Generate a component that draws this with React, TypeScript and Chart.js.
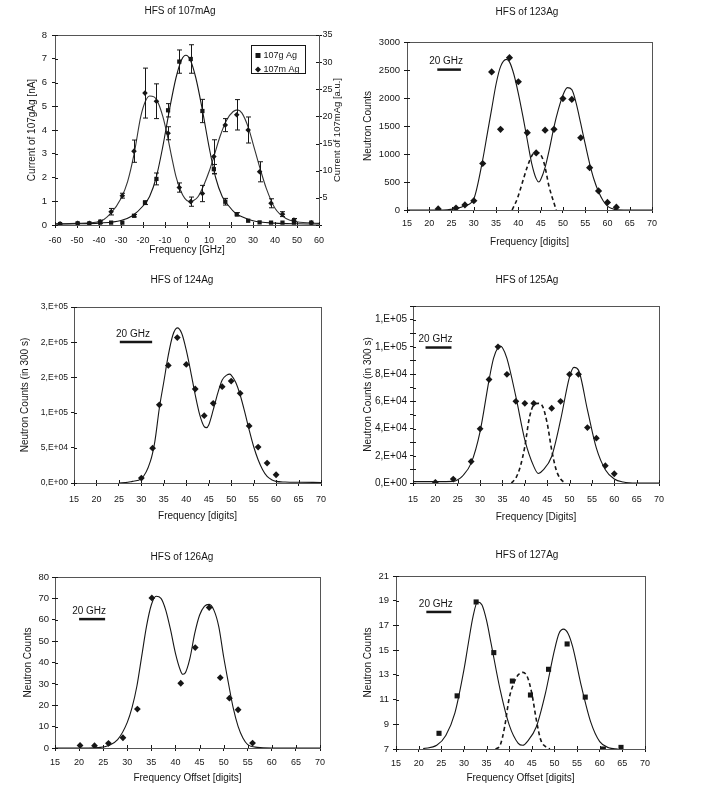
import React, { useEffect, useRef } from 'react';
import { Chart, registerables } from 'chart.js';
Chart.register(...registerables);

// ---------------- DATA ----------------
// Panel 1: HFS of 107mAg
const P1_FREQ = [-57.7, -49.7, -44.4, -39.5, -34.5, -29.4, -24.1, -19.1, -13.9, -8.6, -3.5, 1.7, 7, 12.2, 17.4, 22.6, 27.8, 33, 38.2, 43.4, 48.6, 56.5];
const P1_G_CURRENT = [0.04, 0.07, 0.07, 0.1, 0.1, 0.1, 0.39, 0.94, 1.94, 4.83, 6.88, 6.99, 4.8, 2.35, 0.98, 0.45, 0.18, 0.11, 0.1, 0.1, 0.1, 0.1];
const P1_G_ERR = [0, 0, 0, 0, 0, 0, 0.05, 0.08, 0.25, 0.28, 0.49, 0.6, 0.49, 0.2, 0.14, 0.07, 0, 0, 0, 0, 0, 0];
const P1_M_CURRENT = [0.2, 0.3, 0.3, 0.6, 2.45, 5.4, 13.6, 24.3, 22.8, 16.9, 6.9, 4.3, 5.8, 12.6, 18.4, 20.3, 17.5, 9.8, 4.0, 2.0, 0.9, 0.4];
const P1_M_ERR = [0, 0, 0, 0.3, 0.6, 0.45, 2.05, 4.6, 3.2, 1.2, 0.85, 0.85, 1.5, 3.1, 1.2, 2.8, 2.4, 1.85, 0.83, 0.45, 0.3, 0];
const P1_G_FIT_X = [-60, -50, -40, -30, -25, -20, -17, -14, -11, -8, -5, -2.5, -0.5, 1.5, 4, 7, 10, 13, 16, 19, 22, 25, 30, 40, 50, 60];
const P1_G_FIT_Y = [0.04, 0.05, 0.08, 0.19, 0.38, 0.8, 1.2, 2.0, 3.3, 4.84, 6.2, 6.95, 7.15, 6.95, 6.2, 4.84, 3.3, 2.0, 1.2, 0.8, 0.5, 0.35, 0.18, 0.08, 0.05, 0.04];
const P1_M_FIT_X = [-60, -50, -40, -35, -30, -27, -24, -21, -19, -17, -15, -13, -11, -9, -7, -5, -3, -1, 1, 3, 5, 8, 10, 12, 15, 18, 21, 23, 25, 28, 30, 33, 36, 40, 45, 50, 60];
const P1_M_FIT_Y = [0.2, 0.3, 0.6, 2.0, 4.9, 8.0, 13.2, 20.0, 22.7, 23.75, 23.6, 22.4, 20.0, 16.6, 12.6, 8.9, 6.45, 4.9, 4.3, 4.5, 5.2, 7.7, 9.8, 12.3, 16.3, 19.3, 20.9, 21.2, 20.6, 17.8, 15.0, 10.7, 6.8, 3.1, 1.2, 0.6, 0.3];
const P1_LEGEND = ['107g Ag', '107m Ag'];

// Panel 2: HFS of 123Ag
const P2_DIGITS = [22, 26, 28, 30, 32, 34, 36, 38, 40, 42, 44, 46, 48, 50, 52, 54, 56, 58, 60, 62];
const P2_COUNTS = [20, 35, 90, 165, 830, 2465, 1440, 2720, 2290, 1380, 1020, 1425, 1440, 1990, 1975, 1290, 755, 340, 135, 50];
const P2_FIT_X = [15, 22, 24, 26, 28, 30, 32, 33, 34, 35, 36, 37.3, 38, 39, 40, 41, 42, 43, 44, 44.6, 45, 46, 47, 48, 49, 50, 51, 52, 53, 54, 55, 56, 57, 58, 59, 60, 61, 62, 66, 70];
const P2_FIT_Y = [0, 0, 5, 25, 75, 200, 900, 1350, 1800, 2250, 2560, 2690, 2645, 2420, 2080, 1680, 1250, 830, 560, 500, 540, 760, 1100, 1485, 1800, 2050, 2185, 2150, 1900, 1545, 1180, 830, 540, 325, 170, 70, 25, 5, 0, 0];
const P2_DASH_X = [38.6, 39.8, 40.9, 42, 43.1, 43.9, 44.9, 45.8, 46.9, 47.9, 48.5];
const P2_DASH_Y = [0, 210, 490, 770, 980, 1030, 1000, 830, 415, 150, 0];
const P2_BAR_X = [21.8, 27.1];
const P2_BAR_Y = 2507;

// Panel 3: HFS of 124Ag
const P3_DIGITS = [30, 32.5, 34, 36, 38, 40, 42, 44, 46, 48, 50, 52, 54, 56, 58, 60];
const P3_COUNTS = [7000, 49500, 111000, 167000, 206500, 168500, 133500, 95700, 113200, 136800, 144800, 127400, 81100, 51000, 28300, 11700];
const P3_FIT_X = [25, 27, 28, 30, 32, 33, 34, 35, 36, 37, 38, 39, 40, 41, 42, 43, 44, 44.5, 45, 46, 47, 48, 49, 49.7, 50, 51, 52, 53, 54, 55, 56, 57, 58, 59, 60, 62, 65, 70];
const P3_FIT_Y = [0, 1000, 2300, 6100, 30600, 58900, 106200, 143800, 181600, 209900, 220300, 212300, 188700, 158000, 125000, 96700, 80100, 78700, 82500, 103800, 127400, 146300, 153300, 154700, 153300, 143000, 125000, 101400, 75500, 51800, 33000, 18800, 9300, 4700, 2300, 1400, 1000, 800];
const P3_Y_TICK_LABELS = ['0,E+00', '5,E+04', '1,E+05', '2,E+05', '2,E+05', '3,E+05'];
const P3_BAR_X = [25.2, 32.4];
const P3_BAR_Y = 200400;

// Panel 4: HFS of 125Ag
const P4_DIGITS = [20, 24, 28, 30, 32, 34, 36, 38, 40, 42, 46, 48, 50, 52, 54, 56, 58, 60];
const P4_COUNTS = [500, 2900, 15800, 39800, 76000, 100000, 79800, 60000, 58500, 58500, 54900, 60000, 79800, 79800, 40700, 32900, 12700, 6800];
const P4_FIT_X = [15, 20, 24, 25, 26, 28, 30, 32, 33, 34, 34.5, 35, 36, 38, 40, 42, 43, 44, 46, 48, 50, 51, 52, 54, 56, 58, 60, 62, 65, 70];
const P4_FIT_Y = [1000, 1000, 1200, 2400, 4900, 14600, 37800, 75600, 91500, 99500, 100500, 99300, 91500, 63400, 31700, 12200, 7000, 9300, 19500, 46300, 78000, 84900, 82900, 53700, 25600, 9800, 2900, 700, 0, 0];
const P4_DASH_X = [37, 38, 39, 40, 41, 42, 43, 44, 45, 46, 47, 48, 49];
const P4_DASH_Y = [0, 3700, 12200, 26800, 47500, 57300, 58500, 56100, 43900, 24400, 9800, 2900, 0];
const P4_Y_TICK_LABELS = ['0,E+00', '2,E+04', '4,E+04', '6,E+04', '8,E+04', '1,E+05', '1,E+05'];
const P4_BAR_X = [17.8, 23.6];
const P4_BAR_Y = 99500;

// Panel 5: HFS of 126Ag
const P5_DIGITS = [20.2, 23.2, 26.1, 29.1, 32.1, 35.1, 41.1, 44.1, 47, 49.3, 51.2, 53, 56];
const P5_COUNTS = [1.2, 1.1, 2.2, 4.8, 18.2, 70.2, 30.3, 47, 65.7, 32.9, 23.3, 17.9, 2.3];
const P5_FIT_X = [15, 22, 24, 26, 28, 30, 31, 32, 33, 34, 35, 36, 37, 38, 39, 40, 41, 41.5, 42, 43, 44, 45, 46, 47, 48, 49, 50, 51, 52, 53, 54, 55, 57, 60, 70];
const P5_FIT_Y = [0, 0, 0.2, 1, 3.9, 12, 19, 29, 43, 57, 67, 71, 70, 64.4, 55.1, 44.3, 36.5, 34.5, 35, 41.9, 53.6, 62.1, 66.3, 67.2, 64.4, 56.7, 42.7, 30.3, 18.6, 10.1, 4.7, 1.6, 0.3, 0, 0];
const P5_BAR_X = [20, 25.4];
const P5_BAR_Y = 60.3;

// Panel 6: HFS of 127Ag
const P6_DIGITS = [24.5, 28.5, 32.7, 36.6, 40.7, 44.7, 48.7, 52.8, 56.8, 60.8, 64.7];
const P6_COUNTS = [8.27, 11.3, 18.9, 14.8, 12.5, 11.37, 13.45, 15.5, 11.2, 7.0, 7.13];
const P6_FIT_X = [21, 24, 26, 28, 30, 31, 32, 33, 34, 35, 36, 38, 40, 42, 43, 44, 46, 48, 50, 51, 52, 53, 54, 56, 58, 60, 62, 64];
const P6_FIT_Y = [7.03, 7.3, 8.1, 9.9, 13.4, 15.6, 17.7, 18.9, 18.65, 17.4, 15.55, 11.8, 8.95, 7.46, 7.3, 7.6, 8.8, 11.5, 15.0, 16.35, 16.7, 16.35, 15.3, 12.0, 9.2, 7.6, 7.1, 7.0];
const P6_DASH_X = [37, 38, 39, 40, 41, 42, 43, 44, 45, 46, 47, 48, 49];
const P6_DASH_Y = [7, 7.3, 8.8, 11.1, 12.3, 13.0, 13.2, 12.85, 11.5, 9.35, 7.7, 7.2, 7];
const P6_BAR_X = [21.7, 27.2];
const P6_BAR_Y = 18.09;

const GHZ_TEXT = '20 GHz';

// ---------------- STYLE / HELPERS ----------------
const FONT = "'Liberation Sans', Arial, Helvetica, sans-serif";
const INK = '#161616';
const TL = 3;

const pts = (xs: number[], ys: number[]) => xs.map((x, i) => ({ x, y: ys[i] }));

const markers = (xs: number[], ys: number[], style: string, r: number, extra: any = {}) => ({
  data: pts(xs, ys),
  showLine: false,
  pointStyle: style,
  pointRadius: r,
  pointBackgroundColor: INK,
  pointBorderColor: INK,
  pointBorderWidth: 0,
  ...extra,
});

const curve = (xs: number[], ys: number[], dashed = false, extra: any = {}) => ({
  data: pts(xs, ys),
  showLine: true,
  pointRadius: 0,
  borderColor: INK,
  borderWidth: dashed ? 1.6 : 1.1,
  borderDash: dashed ? [4, 3] : [],
  cubicInterpolationMode: 'monotone',
  fill: false,
  ...extra,
});

const bar = (xs: number[], y: number) => ({
  data: pts(xs, [y, y]),
  showLine: true,
  pointRadius: 0,
  borderColor: INK,
  borderWidth: 2.5,
  fill: false,
});

// ---------------- PLUGINS ----------------
const framePlugin = {
  id: 'frame',
  afterDatasetsDraw(chart: any) {
    const { ctx, chartArea: a } = chart;
    ctx.save();
    ctx.strokeStyle = '#555';
    ctx.lineWidth = 1;
    ctx.strokeRect(Math.round(a.left) + 0.5, Math.round(a.top) + 0.5, Math.round(a.right - a.left), Math.round(a.bottom - a.top));
    ctx.strokeStyle = INK;
    ctx.beginPath();
    const xs = chart.scales.x;
    xs.ticks.forEach((t: any) => {
      const px = Math.round(xs.getPixelForValue(t.value)) + 0.5;
      ctx.moveTo(px, a.bottom);
      ctx.lineTo(px, a.bottom - TL);
    });
    const ys = chart.scales.y;
    ys.ticks.forEach((t: any) => {
      const py = Math.round(ys.getPixelForValue(t.value)) + 0.5;
      ctx.moveTo(a.left, py);
      ctx.lineTo(a.left + TL, py);
    });
    const y2 = chart.scales.y2;
    if (y2) {
      y2.ticks.forEach((t: any) => {
        const py = Math.round(y2.getPixelForValue(t.value)) + 0.5;
        ctx.moveTo(a.right, py);
        ctx.lineTo(a.right - TL, py);
      });
    }
    ctx.stroke();
    ctx.restore();
  },
};

const errorBarPlugin = {
  id: 'errorBars',
  afterDatasetsDraw(chart: any) {
    const ctx = chart.ctx;
    chart.data.datasets.forEach((ds: any, i: number) => {
      if (!ds.errorBars) return;
      const meta = chart.getDatasetMeta(i);
      const ys = chart.scales[meta.yAxisID];
      ctx.save();
      ctx.strokeStyle = INK;
      ctx.lineWidth = 1;
      ctx.beginPath();
      meta.data.forEach((pt: any, j: number) => {
        const e = ds.errorBars[j];
        if (!e) return;
        const v = ds.data[j].y;
        const y1 = ys.getPixelForValue(v - e);
        const y2 = ys.getPixelForValue(v + e);
        const x = Math.round(pt.x) + 0.5;
        ctx.moveTo(x, y1);
        ctx.lineTo(x, y2);
        ctx.moveTo(x - 2.5, y1);
        ctx.lineTo(x + 2.5, y1);
        ctx.moveTo(x - 2.5, y2);
        ctx.lineTo(x + 2.5, y2);
      });
      ctx.stroke();
      ctx.restore();
    });
  },
};

const ghzPlugin = {
  id: 'ghz',
  afterDatasetsDraw(chart: any, _args: any, opts: any) {
    if (!opts || !opts.text) return;
    const { ctx } = chart;
    const xs = chart.scales.x;
    const ys = chart.scales.y;
    const x = (xs.getPixelForValue(opts.x1) + xs.getPixelForValue(opts.x2)) / 2 - 3;
    const y = ys.getPixelForValue(opts.y) - 8;
    ctx.save();
    ctx.fillStyle = INK;
    ctx.font = `10px ${FONT}`;
    ctx.textAlign = 'center';
    ctx.textBaseline = 'middle';
    ctx.fillText(opts.text, x, y);
    ctx.restore();
  },
};

const boxLegendPlugin = {
  id: 'boxLegend',
  afterDatasetsDraw(chart: any, _args: any, opts: any) {
    if (!opts || !opts.items) return;
    const { ctx, chartArea: a } = chart;
    const x1 = Math.round(a.right - 68) + 0.5;
    const y1 = Math.round(a.top + 10) + 0.5;
    ctx.save();
    ctx.fillStyle = '#fff';
    ctx.fillRect(x1, y1, 54, 28);
    ctx.strokeStyle = INK;
    ctx.lineWidth = 1;
    ctx.strokeRect(x1, y1, 54, 28);
    ctx.fillStyle = INK;
    ctx.font = `9px ${FONT}`;
    ctx.textBaseline = 'middle';
    ctx.textAlign = 'left';
    opts.items.forEach((it: any, i: number) => {
      const my = y1 + 10 + i * 14;
      const mx = x1 + 6.5;
      if (it.style === 'rect') {
        ctx.fillRect(mx - 2.5, my - 2.5, 5, 5);
      } else {
        ctx.beginPath();
        ctx.moveTo(mx, my - 3);
        ctx.lineTo(mx + 3, my);
        ctx.lineTo(mx, my + 3);
        ctx.lineTo(mx - 3, my);
        ctx.closePath();
        ctx.fill();
      }
      ctx.fillText(it.label, x1 + 12, my);
    });
    ctx.restore();
  },
};

const rightTitlePlugin = {
  id: 'rightTitle',
  afterDraw(chart: any, _args: any, opts: any) {
    if (!opts || !opts.text) return;
    const { ctx, chartArea: a } = chart;
    ctx.save();
    ctx.translate(opts.x, (a.top + a.bottom) / 2);
    ctx.rotate(-Math.PI / 2);
    ctx.fillStyle = INK;
    ctx.font = `9.5px ${FONT}`;
    ctx.textAlign = 'center';
    ctx.textBaseline = 'middle';
    ctx.fillText(opts.text, 0, 0);
    ctx.restore();
  },
};

// ---------------- LAYOUT ----------------
type Layout = {
  left: number; top: number; width: number; height: number;
  plotL: number; plotR: number; plotT: number; plotB: number;
  titleY: number; xTickY: number; xTitleY: number; yTickRight: number; yTitleX: number;
};

type Spec = {
  title: string; xTitle: string; yTitle: string;
  xMin: number; xMax: number; xStep: number;
  yMin: number; yMax: number; yStep: number;
  yLabel?: (v: number) => string;
  yTickSize?: number;
  y2?: { min: number; max: number; step: number; label: (v: number) => string };
};

function makeConfig(L: Layout, S: Spec, datasets: any[], pluginOpts: any = {}) {
  const xH = L.top + L.height - L.plotB;
  const yW = L.plotL - L.left;
  const rW = L.left + L.width - L.plotR;
  const tPT = L.titleY - 6 - L.top;
  const tPB = L.plotT - L.titleY - 6;
  const xTickPad = L.xTickY - L.plotB - TL - 5.4;
  const xTitlePB = L.top + L.height - L.xTitleY - 6;
  const yTickPad = L.plotL - TL - L.yTickRight;
  const yTitlePT = L.yTitleX - L.left - 6;
  const tickFont = { family: FONT, size: 9 };
  const titleFont = { family: FONT, size: 10, weight: 'normal' as const };
  const grid = { display: true, drawOnChartArea: false, drawTicks: true, tickLength: TL, color: INK, lineWidth: 1 };
  const border = { display: true, color: INK, width: 1 };

  const scales: any = {
    x: {
      type: 'linear', position: 'bottom', min: S.xMin, max: S.xMax,
      ticks: { stepSize: S.xStep, autoSkip: false, maxRotation: 0, padding: xTickPad, color: INK, font: tickFont, callback: (v: any) => String(v) },
      grid, border,
      title: { display: true, text: S.xTitle, color: INK, font: titleFont, padding: { top: 0, bottom: xTitlePB } },
      afterFit: (s: any) => { s.height = xH; s.paddingLeft = 0; s.paddingRight = 0; },
    },
    y: {
      type: 'linear', position: 'left', min: S.yMin, max: S.yMax,
      ticks: {
        stepSize: S.yStep, autoSkip: false, padding: yTickPad, color: INK,
        font: { family: FONT, size: S.yTickSize || 9.5 },
        callback: (v: any) => (S.yLabel ? S.yLabel(v) : String(v)),
      },
      grid, border,
      title: { display: true, text: S.yTitle, color: INK, font: titleFont, padding: { top: yTitlePT, bottom: 0 } },
      afterFit: (s: any) => { s.width = yW; s.paddingTop = 0; s.paddingBottom = 0; },
    },
  };
  if (S.y2) {
    scales.y2 = {
      type: 'linear', position: 'right', min: S.y2.min, max: S.y2.max,
      ticks: { stepSize: S.y2.step, autoSkip: false, padding: 0.5, color: INK, font: { family: FONT, size: 9 }, callback: (v: any) => S.y2!.label(v) },
      grid, border,
      title: { display: false },
      afterFit: (s: any) => { s.width = rW; s.paddingTop = 0; s.paddingBottom = 0; },
    };
  } else {
    scales.yR = {
      type: 'linear', position: 'right', display: true,
      ticks: { display: false }, grid: { display: false }, border: { display: false }, title: { display: false },
      afterFit: (s: any) => { s.width = rW; s.paddingTop = 0; s.paddingBottom = 0; },
    };
  }

  return {
    type: 'scatter',
    data: { datasets },
    options: {
      animation: false,
      responsive: false,
      maintainAspectRatio: false,
      events: [],
      layout: { padding: 0 },
      scales,
      plugins: {
        legend: { display: false },
        tooltip: { enabled: false },
        title: { display: true, text: S.title, color: INK, font: titleFont, padding: { top: tPT, bottom: tPB } },
        ...pluginOpts,
      },
    },
    plugins: [framePlugin, errorBarPlugin, ghzPlugin, boxLegendPlugin, rightTitlePlugin],
  };
}

// ---------------- PANELS ----------------
const L1: Layout = { left: 0, top: 0, width: 360, height: 258, plotL: 55, plotR: 319, plotT: 35, plotB: 225, titleY: 11, xTickY: 241, xTitleY: 250, yTickRight: 47, yTitleX: 32 };
const L2: Layout = { left: 354, top: 0, width: 346, height: 250, plotL: 407, plotR: 652, plotT: 42, plotB: 210, titleY: 12, xTickY: 224, xTitleY: 242, yTickRight: 400, yTitleX: 368 };
const L3: Layout = { left: 0, top: 262, width: 364, height: 262, plotL: 74, plotR: 321, plotT: 307, plotB: 483, titleY: 280, xTickY: 500, xTitleY: 516, yTickRight: 68, yTitleX: 25 };
const L4: Layout = { left: 354, top: 262, width: 346, height: 263, plotL: 413, plotR: 659, plotT: 306, plotB: 483, titleY: 280, xTickY: 500, xTitleY: 517, yTickRight: 407, yTitleX: 368 };
const L5: Layout = { left: 0, top: 526, width: 364, height: 260, plotL: 55, plotR: 320, plotT: 577, plotB: 748, titleY: 557, xTickY: 763, xTitleY: 778, yTickRight: 49, yTitleX: 28 };
const L6: Layout = { left: 354, top: 526, width: 346, height: 260, plotL: 396, plotR: 645, plotT: 576, plotB: 749, titleY: 555, xTickY: 764, xTitleY: 778, yTickRight: 389, yTitleX: 368 };

const build1 = () => makeConfig(L1, {
  title: 'HFS of 107mAg', xTitle: 'Frequency [GHz]', yTitle: 'Current of 107gAg [nA]',
  xMin: -60, xMax: 60, xStep: 10, yMin: 0, yMax: 8, yStep: 1,
  y2: { min: 0, max: 35, step: 5, label: (v) => (v === 0 ? '' : String(v)) },
}, [
  markers(P1_FREQ, P1_G_CURRENT, 'rect', 3, { yAxisID: 'y', errorBars: P1_G_ERR }),
  markers(P1_FREQ, P1_M_CURRENT, 'rectRot', 2.8, { yAxisID: 'y2', errorBars: P1_M_ERR }),
  curve(P1_G_FIT_X, P1_G_FIT_Y, false, { yAxisID: 'y' }),
  curve(P1_M_FIT_X, P1_M_FIT_Y, false, { yAxisID: 'y2', borderColor: '#333' }),
], {
  boxLegend: { items: [{ label: P1_LEGEND[0], style: 'rect' }, { label: P1_LEGEND[1], style: 'diamond' }] },
  rightTitle: { text: 'Current of 107mAg [a.u.]', x: 337 },
});

const build2 = () => makeConfig(L2, {
  title: 'HFS of 123Ag', xTitle: 'Frequency [digits]', yTitle: 'Neutron Counts',
  xMin: 15, xMax: 70, xStep: 5, yMin: 0, yMax: 3000, yStep: 500,
}, [
  markers(P2_DIGITS, P2_COUNTS, 'rectRot', 3.6),
  curve(P2_FIT_X, P2_FIT_Y),
  curve(P2_DASH_X, P2_DASH_Y, true),
  bar(P2_BAR_X, P2_BAR_Y),
], { ghz: { text: GHZ_TEXT, x1: P2_BAR_X[0], x2: P2_BAR_X[1], y: P2_BAR_Y } });

const build3 = () => makeConfig(L3, {
  title: 'HFS of 124Ag', xTitle: 'Frequency [digits]', yTitle: 'Neutron Counts (in 300 s)',
  xMin: 15, xMax: 70, xStep: 5, yMin: 0, yMax: 250000, yStep: 50000, yTickSize: 8.5,
  yLabel: (v) => P3_Y_TICK_LABELS[Math.round(v / 50000)] ?? '',
}, [
  markers(P3_DIGITS, P3_COUNTS, 'rectRot', 3.4),
  curve(P3_FIT_X, P3_FIT_Y),
  bar(P3_BAR_X, P3_BAR_Y),
], { ghz: { text: GHZ_TEXT, x1: P3_BAR_X[0], x2: P3_BAR_X[1], y: P3_BAR_Y } });

const build4 = () => makeConfig(L4, {
  title: 'HFS of 125Ag', xTitle: 'Frequency [Digits]', yTitle: 'Neutron Counts (in 300 s)',
  xMin: 15, xMax: 70, xStep: 5, yMin: 0, yMax: 130000, yStep: 10000, yTickSize: 10,
  yLabel: (v) => (Math.round(v / 10000) % 2 === 0 ? P4_Y_TICK_LABELS[Math.round(v / 20000)] ?? '' : ''),
}, [
  markers(P4_DIGITS, P4_COUNTS, 'rectRot', 3.4),
  curve(P4_FIT_X, P4_FIT_Y),
  curve(P4_DASH_X, P4_DASH_Y, true),
  bar(P4_BAR_X, P4_BAR_Y),
], { ghz: { text: GHZ_TEXT, x1: P4_BAR_X[0], x2: P4_BAR_X[1], y: P4_BAR_Y } });

const build5 = () => makeConfig(L5, {
  title: 'HFS of 126Ag', xTitle: 'Frequency Offset [digits]', yTitle: 'Neutron Counts',
  xMin: 15, xMax: 70, xStep: 5, yMin: 0, yMax: 80, yStep: 10,
}, [
  markers(P5_DIGITS, P5_COUNTS, 'rectRot', 3.4),
  curve(P5_FIT_X, P5_FIT_Y),
  bar(P5_BAR_X, P5_BAR_Y),
], { ghz: { text: GHZ_TEXT, x1: P5_BAR_X[0], x2: P5_BAR_X[1], y: P5_BAR_Y } });

const build6 = () => makeConfig(L6, {
  title: 'HFS of 127Ag', xTitle: 'Frequency Offset [digits]', yTitle: 'Neutron Counts',
  xMin: 15, xMax: 70, xStep: 5, yMin: 7, yMax: 21, yStep: 2,
}, [
  markers(P6_DIGITS, P6_COUNTS, 'rect', 3.6),
  curve(P6_FIT_X, P6_FIT_Y),
  curve(P6_DASH_X, P6_DASH_Y, true),
  bar(P6_BAR_X, P6_BAR_Y),
], { ghz: { text: GHZ_TEXT, x1: P6_BAR_X[0], x2: P6_BAR_X[1], y: P6_BAR_Y } });

function ChartPanel({ layout, build }: { layout: Layout; build: () => any }) {
  const ref = useRef<HTMLCanvasElement | null>(null);
  useEffect(() => {
    if (!ref.current) return;
    const chart = new Chart(ref.current, build());
    return () => chart.destroy();
  }, []);
  return (
    <canvas
      ref={ref}
      width={layout.width}
      height={layout.height}
      style={{ position: 'absolute', left: layout.left, top: layout.top, width: layout.width, height: layout.height }}
    />
  );
}

export default function App() {
  return (
    <div style={{ position: 'absolute', left: 0, top: 0, width: 703, height: 806, background: '#fff', overflow: 'hidden' }}>
      <ChartPanel layout={L1} build={build1} />
      <ChartPanel layout={L2} build={build2} />
      <ChartPanel layout={L3} build={build3} />
      <ChartPanel layout={L4} build={build4} />
      <ChartPanel layout={L5} build={build5} />
      <ChartPanel layout={L6} build={build6} />
    </div>
  );
}
